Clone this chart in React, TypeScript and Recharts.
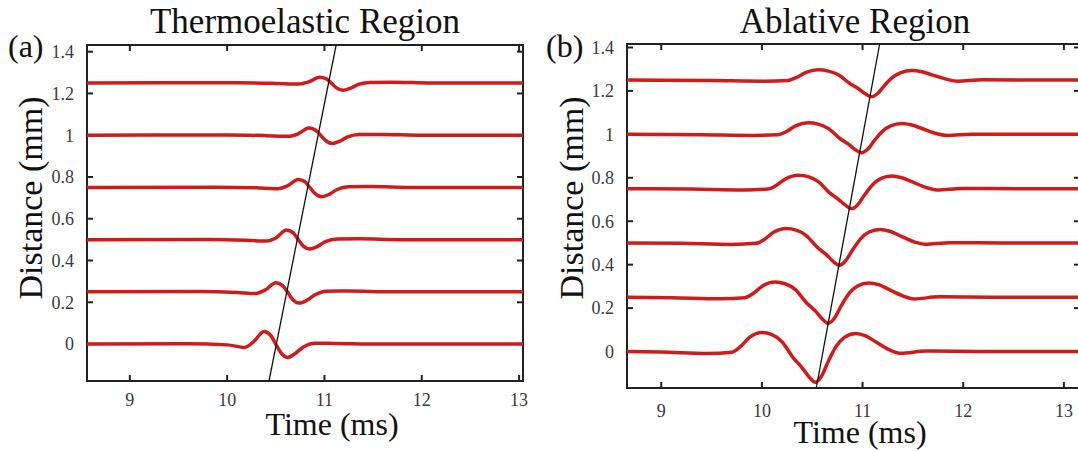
import { LineChart, Line, XAxis, YAxis, ReferenceLine, ReferenceArea } from "recharts";

const FONT = "'Liberation Serif', 'Times New Roman', serif";
const RED = "#d11a1a";
const INK = "#222";

const timeTicks = [9, 10, 11, 12, 13];
const distanceTicks = [0, 0.2, 0.4, 0.6, 0.8, 1, 1.2, 1.4];

// (a) thermoelastic traces, [time ms, distance mm]
const thermo0 = [[8.56, 0], [9.6, 0.001], [10.0, -0.004], [10.18, -0.016], [10.27, 0.01], [10.38, 0.06], [10.45, 0.04], [10.5, 0.0], [10.55, -0.04], [10.62, -0.064], [10.7, -0.045], [10.78, -0.015], [10.9, 0.004], [11.1, 0.003], [11.6, 0], [13.04, 0]];
const thermo1 = [[8.56, 0.25], [9.7, 0.251], [10.1, 0.247], [10.29, 0.242], [10.39, 0.258], [10.5, 0.294], [10.57, 0.28], [10.62, 0.25], [10.67, 0.215], [10.74, 0.196], [10.82, 0.21], [10.9, 0.235], [11.02, 0.253], [11.25, 0.254], [11.7, 0.25], [13.04, 0.25]];
const thermo2 = [[8.56, 0.5], [9.8, 0.501], [10.2, 0.497], [10.4, 0.493], [10.5, 0.508], [10.61, 0.546], [10.68, 0.532], [10.73, 0.5], [10.78, 0.47], [10.85, 0.455], [10.93, 0.468], [11.01, 0.49], [11.13, 0.503], [11.35, 0.504], [11.8, 0.5], [13.04, 0.5]];
const thermo3 = [[8.56, 0.75], [9.9, 0.751], [10.3, 0.748], [10.52, 0.744], [10.62, 0.757], [10.73, 0.788], [10.8, 0.777], [10.85, 0.75], [10.9, 0.722], [10.97, 0.705], [11.05, 0.717], [11.13, 0.74], [11.25, 0.753], [11.47, 0.754], [11.9, 0.75], [13.04, 0.75]];
const thermo4 = [[8.56, 1.0], [10.0, 1.001], [10.4, 0.998], [10.63, 0.995], [10.73, 1.007], [10.84, 1.034], [10.91, 1.024], [10.96, 1.0], [11.01, 0.975], [11.08, 0.96], [11.16, 0.972], [11.24, 0.992], [11.36, 1.003], [11.58, 1.004], [12.0, 1.0], [13.04, 1.0]];
const thermo5 = [[8.56, 1.25], [10.1, 1.251], [10.5, 1.248], [10.74, 1.245], [10.84, 1.256], [10.95, 1.278], [11.02, 1.27], [11.07, 1.25], [11.12, 1.228], [11.19, 1.215], [11.27, 1.226], [11.35, 1.243], [11.47, 1.253], [11.69, 1.254], [12.1, 1.25], [13.04, 1.25]];
const thermoFront = [[10.43, -0.177], [11.12, 1.432]];

// (b) ablative traces
const ablate0 = [[8.66, 0], [9.0, -0.002], [9.46, -0.009], [9.7, -0.003], [9.78, 0.02], [9.88, 0.066], [10.0, 0.088], [10.1, 0.078], [10.2, 0.045], [10.31, -0.028], [10.4, -0.075], [10.47, -0.118], [10.53, -0.142], [10.59, -0.115], [10.66, -0.045], [10.74, 0.025], [10.82, 0.065], [10.93, 0.083], [11.03, 0.072], [11.13, 0.045], [11.28, 0.005], [11.38, -0.008], [11.63, 0.002], [12.2, 0], [13.2, 0]];
const ablate1 = [[8.66, 0.25], [9.1, 0.248], [9.59, 0.243], [9.83, 0.248], [9.91, 0.266], [10.01, 0.303], [10.13, 0.32], [10.23, 0.312], [10.33, 0.286], [10.44, 0.226], [10.53, 0.187], [10.6, 0.15], [10.66, 0.13], [10.72, 0.153], [10.79, 0.212], [10.87, 0.27], [10.95, 0.302], [11.06, 0.316], [11.16, 0.308], [11.26, 0.286], [11.41, 0.254], [11.51, 0.242], [11.76, 0.252], [12.3, 0.25], [13.2, 0.25]];
const ablate2 = [[8.66, 0.5], [9.2, 0.498], [9.7, 0.493], [9.94, 0.498], [10.02, 0.515], [10.12, 0.55], [10.24, 0.566], [10.34, 0.559], [10.44, 0.534], [10.55, 0.48], [10.64, 0.446], [10.71, 0.414], [10.77, 0.397], [10.83, 0.417], [10.9, 0.467], [10.98, 0.519], [11.06, 0.549], [11.17, 0.562], [11.27, 0.554], [11.37, 0.534], [11.52, 0.504], [11.62, 0.494], [11.87, 0.501], [12.4, 0.5], [13.2, 0.5]];
const ablate3 = [[8.66, 0.75], [9.3, 0.748], [9.82, 0.744], [10.06, 0.748], [10.14, 0.764], [10.24, 0.796], [10.36, 0.812], [10.46, 0.805], [10.56, 0.782], [10.67, 0.732], [10.76, 0.701], [10.83, 0.674], [10.89, 0.658], [10.95, 0.675], [11.02, 0.721], [11.1, 0.768], [11.18, 0.796], [11.29, 0.808], [11.39, 0.8], [11.49, 0.782], [11.64, 0.754], [11.74, 0.744], [11.99, 0.751], [12.5, 0.75], [13.2, 0.75]];
const ablate4 = [[8.66, 1.0], [9.4, 0.998], [9.92, 0.995], [10.16, 0.998], [10.24, 1.012], [10.34, 1.04], [10.46, 1.053], [10.56, 1.047], [10.66, 1.027], [10.77, 0.983], [10.86, 0.955], [10.93, 0.929], [10.99, 0.915], [11.05, 0.931], [11.12, 0.973], [11.2, 1.015], [11.28, 1.039], [11.39, 1.05], [11.49, 1.043], [11.59, 1.027], [11.74, 1.003], [11.84, 0.995], [12.09, 1.001], [12.6, 1.0], [13.2, 1.0]];
const ablate5 = [[8.66, 1.25], [9.5, 1.248], [10.02, 1.245], [10.26, 1.248], [10.34, 1.261], [10.44, 1.285], [10.56, 1.297], [10.66, 1.291], [10.76, 1.274], [10.87, 1.235], [10.96, 1.21], [11.03, 1.186], [11.09, 1.173], [11.15, 1.188], [11.22, 1.226], [11.3, 1.263], [11.38, 1.284], [11.49, 1.294], [11.59, 1.288], [11.69, 1.274], [11.84, 1.253], [11.94, 1.245], [12.19, 1.251], [12.7, 1.25], [13.2, 1.25]];
const ablateFront = [[10.54, -0.168], [11.17, 1.416]];

const toRows = (pts: number[][]) => pts.map(([t, y]) => ({ t, y }));

// tick text styling (serif, 18px) and small nudges of the time labels
const css = `
.recharts-cartesian-axis-tick text { font-family: 'Liberation Serif', 'Times New Roman', serif; font-size: 18px; fill: #3a3a3a; }
.panel-a .recharts-xAxis .recharts-cartesian-axis-tick text { transform: translateY(-6px); }
.panel-b .recharts-xAxis .recharts-cartesian-axis-tick text { transform: translateY(-2px); }
`;

type PanelProps = {
  traces: number[][][];
  front: number[][];
  xDomain: [number, number];
  yDomain: [number, number];
  width: number;
  margin: { top: number; right: number; bottom: number; left: number };
  xTickGap: number;
  tickDx: number;
  tickDy: number;
};

function Panel({ traces, front, xDomain, yDomain, width, margin, xTickGap, tickDx, tickDy }: PanelProps) {
  const [x0, x1] = xDomain;
  const [y0, y1] = yDomain;
  const tickStyle = { fill: "#3a3a3a", fontSize: 18, fontFamily: FONT };
  return (
    <LineChart width={width} height={451} margin={margin} style={{ fontFamily: FONT }}>
      <XAxis
        type="number"
        dataKey="t"
        domain={xDomain}
        ticks={timeTicks}
        interval={0}
        allowDataOverflow
        axisLine={false}
        tickLine={false}
        tickMargin={xTickGap}
        height={30}
        tick={tickStyle}
      />
      <YAxis
        type="number"
        domain={yDomain}
        ticks={distanceTicks}
        interval={0}
        allowDataOverflow
        axisLine={false}
        tickLine={false}
        tickMargin={7}
        width={60}
        tick={tickStyle}
      />
      <ReferenceArea x1={x0} x2={x1} y1={y0} y2={y1} fill="none" fillOpacity={0} stroke={INK} strokeWidth={2} ifOverflow="visible" />
      {timeTicks.map((t) => (
        <ReferenceLine key={"xb" + t} segment={[{ x: t, y: y0 }, { x: t, y: y0 + tickDy }]} stroke={INK} strokeWidth={2} ifOverflow="visible" />
      ))}
      {timeTicks.map((t) => (
        <ReferenceLine key={"xt" + t} segment={[{ x: t, y: y1 }, { x: t, y: y1 - tickDy }]} stroke={INK} strokeWidth={2} ifOverflow="visible" />
      ))}
      {distanceTicks.map((v) => (
        <ReferenceLine key={"yl" + v} segment={[{ x: x0, y: v }, { x: x0 + tickDx, y: v }]} stroke={INK} strokeWidth={2} ifOverflow="visible" />
      ))}
      {distanceTicks.map((v) => (
        <ReferenceLine key={"yr" + v} segment={[{ x: x1, y: v }, { x: x1 - tickDx, y: v }]} stroke={INK} strokeWidth={2} ifOverflow="visible" />
      ))}
      {traces.map((tr, i) => (
        <Line
          key={i}
          data={toRows(tr)}
          dataKey="y"
          type="monotone"
          stroke={RED}
          strokeWidth={3.5}
          dot={false}
          activeDot={false}
          isAnimationActive={false}
        />
      ))}
      <Line data={toRows(front)} dataKey="y" type="linear" stroke="#111" strokeWidth={1.3} dot={false} activeDot={false} isAnimationActive={false} />
    </LineChart>
  );
}

export default function App() {
  const big = { fontFamily: FONT, fill: "#111" };
  return (
    <div style={{ position: "absolute", left: 0, top: 0, width: 1078, height: 451, overflow: "hidden", background: "#fff", fontFamily: FONT }}>
      <style>{css}</style>
      <div className="panel-a" style={{ position: "absolute", left: 0, top: 0 }}>
        <Panel
          traces={[thermo0, thermo1, thermo2, thermo3, thermo4, thermo5]}
          front={thermoFront}
          xDomain={[8.56, 13.04]}
          yDomain={[-0.177, 1.432]}
          width={540}
          margin={{ top: 45, right: 17, bottom: 40, left: 27 }}
          xTickGap={6}
          tickDx={0.062}
          tickDy={0.029}
        />
      </div>
      <div className="panel-b" style={{ position: "absolute", left: 540, top: 0 }}>
        <Panel
          traces={[ablate0, ablate1, ablate2, ablate3, ablate4, ablate5]}
          front={ablateFront}
          xDomain={[8.66, 13.16]}
          yDomain={[-0.168, 1.416]}
          width={545}
          margin={{ top: 44, right: 5, bottom: 33, left: 27 }}
          xTickGap={10}
          tickDx={0.06}
          tickDy={0.028}
        />
      </div>
      <svg width={1078} height={451} style={{ position: "absolute", left: 0, top: 0, pointerEvents: "none" }}>
        <text x={305} y={33} textAnchor="middle" fontSize={35} {...big}>Thermoelastic Region</text>
        <text x={855} y={33} textAnchor="middle" fontSize={35} {...big}>Ablative Region</text>
        <text x={8} y={57} fontSize={32} {...big}>(a)</text>
        <text x={546} y={57} fontSize={32} {...big}>(b)</text>
        <text transform="translate(42,198) rotate(-90)" textAnchor="middle" fontSize={34} {...big}>Distance (mm)</text>
        <text transform="translate(583,198) rotate(-90)" textAnchor="middle" fontSize={34} {...big}>Distance (mm)</text>
        <text x={332} y={435} textAnchor="middle" fontSize={32} {...big}>Time (ms)</text>
        <text x={860} y={443} textAnchor="middle" fontSize={32} {...big}>Time (ms)</text>
      </svg>
    </div>
  );
}
